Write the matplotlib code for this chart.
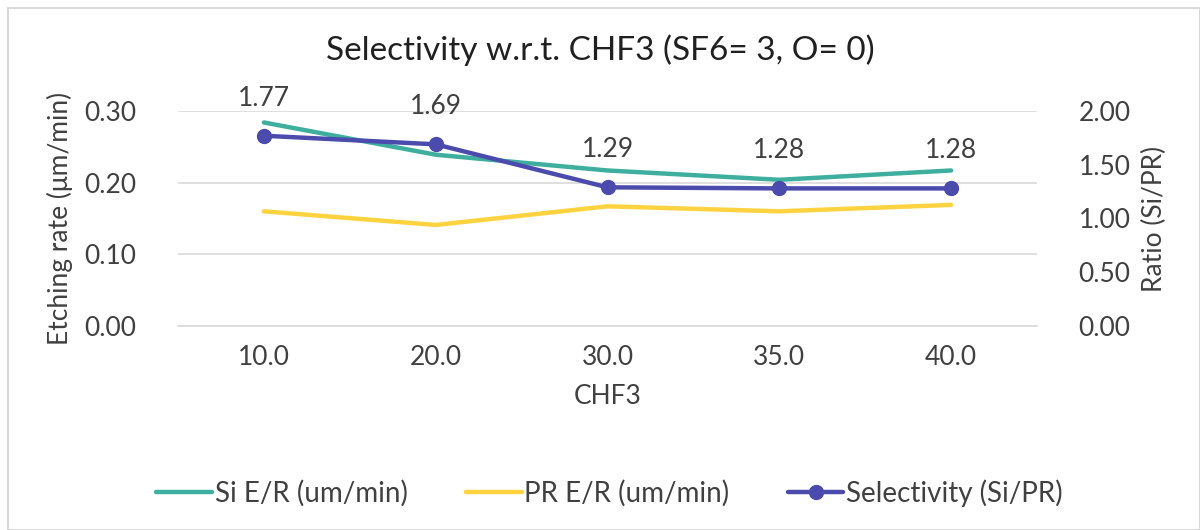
import matplotlib.pyplot as plt
from matplotlib.patches import Rectangle

plt.rcParams['font.family'] = ['Lato', 'DejaVu Sans']

chf3 = ["10.0", "20.0", "30.0", "35.0", "40.0"]
si_rate = [0.284, 0.239, 0.217, 0.204, 0.217]
pr_rate = [0.160, 0.141, 0.167, 0.160, 0.169]
selectivity = [1.77, 1.69, 1.29, 1.28, 1.28]

TEAL = "#3EAF9F"
YELLOW = "#FFD33F"
PURPLE = "#4B4BAD"
TXT = "#404040"
GRID = "#D9D9D9"
FS = 19

fig = plt.figure(figsize=(12, 5.3), dpi=100)
ax = fig.add_axes([178 / 1200, 1 - 326 / 530, (1037 - 178) / 1200, 215 / 530])
ax2 = ax.twinx()

x = range(len(chf3))
l1, = ax.plot(x, si_rate, color=TEAL, lw=3.2, solid_capstyle="round", label="Si E/R (um/min)")
l2, = ax.plot(x, pr_rate, color=YELLOW, lw=3.2, solid_capstyle="round", label="PR E/R (um/min)")
l3, = ax2.plot(x, selectivity, color=PURPLE, lw=3.2, marker="o", ms=10,
               solid_capstyle="round", label="Selectivity (Si/PR)")

for xi, v in zip(x, selectivity):
    ax2.annotate(f"{v:.2f}", (xi, v), xytext=(0, 27), textcoords="offset points",
                 ha="center", va="center", fontsize=FS, color=TXT)

ax.set_xlim(-0.5, len(chf3) - 0.5)
ax.set_ylim(0, 0.30)
ax2.set_ylim(0, 2.0)
ax.set_yticks([0, 0.1, 0.2, 0.3])
ax2.set_yticks([0, 0.5, 1.0, 1.5, 2.0])
ax.set_yticklabels([f"{t:.2f}" for t in ax.get_yticks()])
ax2.set_yticklabels([f"{t:.2f}" for t in ax2.get_yticks()])
ax.set_xticks(list(x))
ax.set_xticklabels(chf3)

ax.grid(axis="y", color=GRID, lw=1.2)
ax.set_axisbelow(True)
for a in (ax, ax2):
    for s in a.spines.values():
        s.set_visible(False)
    a.tick_params(length=0, labelsize=FS, colors=TXT)
ax.spines["bottom"].set_visible(True)
ax.spines["bottom"].set_color(GRID)
ax.spines["bottom"].set_linewidth(1.2)
ax.tick_params(axis="x", pad=14)
ax.tick_params(axis="y", pad=30)
ax2.tick_params(axis="y", pad=30)

ax.set_xlabel("CHF3", fontsize=FS, color=TXT, labelpad=10)
ax.set_ylabel("Etching rate (μm/min)", fontsize=FS, color=TXT, labelpad=8)
ax2.set_ylabel("Ratio (Si/PR)", fontsize=FS, color=TXT, labelpad=8)

fig.text(0.5, 1 - 50 / 530, "Selectivity w.r.t. CHF3 (SF6= 3, O= 0)",
         ha="center", va="center", fontsize=24, color="#202020")

fig.legend(handles=[l1, l2, l3], loc="center", bbox_to_anchor=(0.508, 1 - 493 / 530),
           ncol=3, frameon=False, fontsize=20, labelcolor=TXT, handlelength=2.0,
           handletextpad=0.1, columnspacing=2.1)

fig.patches.append(Rectangle((8 / 1200, 0), 1 - 8 / 1200, 1 - 8 / 530, transform=fig.transFigure,
                             fill=False, edgecolor="#D9D9D9", lw=1.5))

fig.savefig("out.png", dpi=100)
